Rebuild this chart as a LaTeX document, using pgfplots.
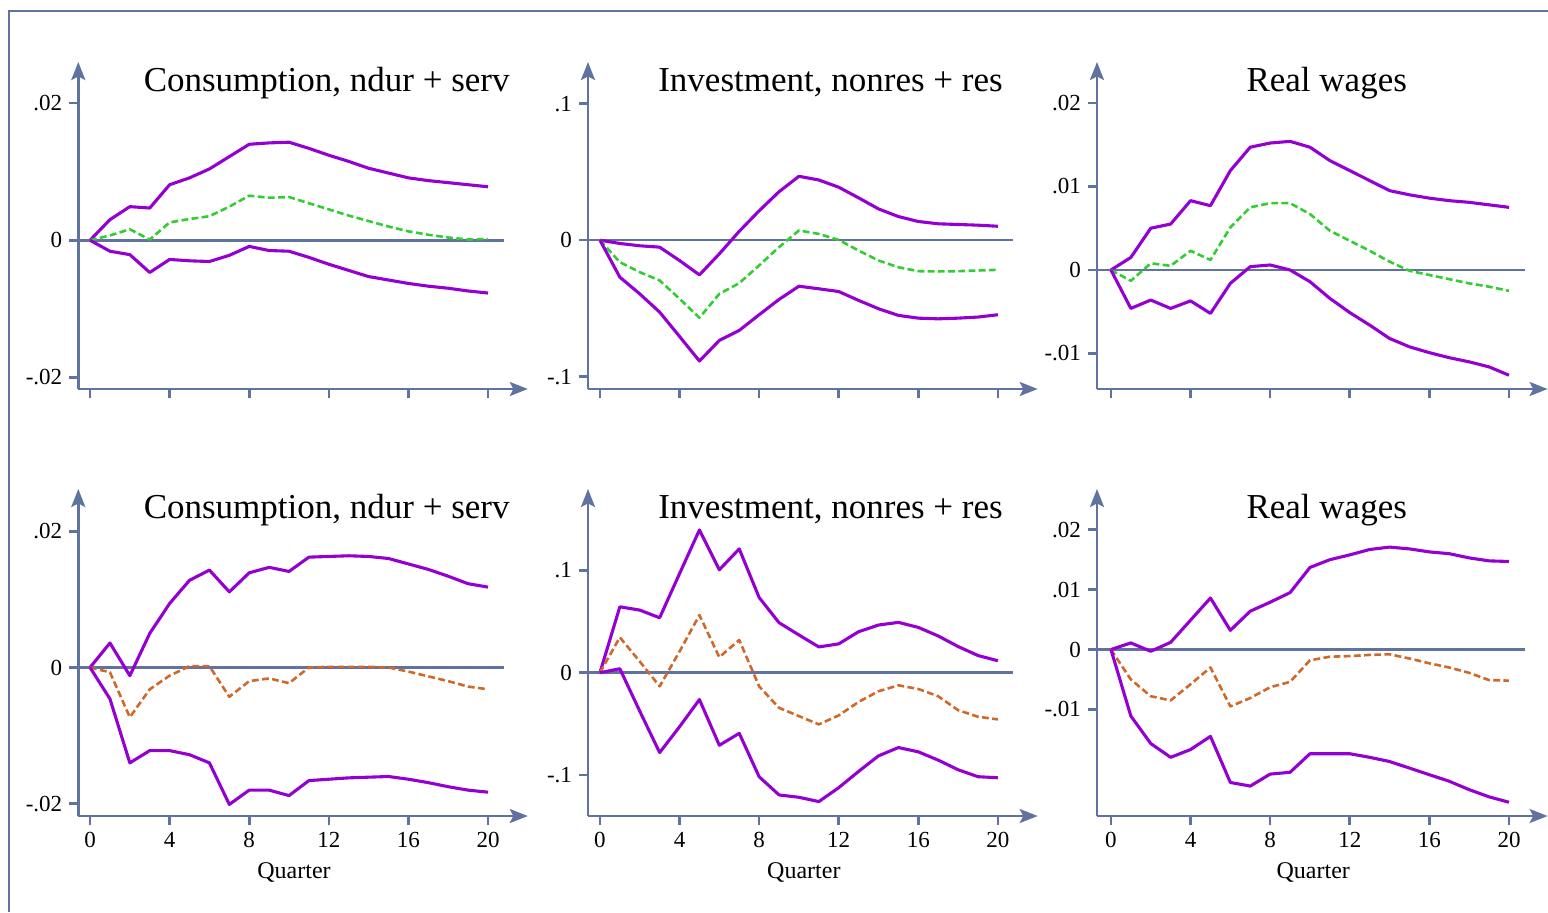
\documentclass[border=0pt]{standalone}
\usepackage{fontspec}
\setmainfont{Liberation Serif}
\usepackage{pgfplots}
\pgfplotsset{compat=1.18}
\usepackage{pgfplotstable}
\usetikzlibrary{arrows.meta}
\definecolor{axc}{RGB}{96,114,160}
\definecolor{pur}{RGB}{148,0,211}
\definecolor{grn}{RGB}{50,205,50}
\definecolor{org}{RGB}{208,104,42}

% x up mid lo
\pgfplotstableread{
x up mid lo
0 0 0 0
1 0.0030 0.0007 -0.0016
2 0.0049 0.0016 -0.0021
3 0.0047 0.0001 -0.0047
4 0.0081 0.0026 -0.0028
5 0.0091 0.0031 -0.0030
6 0.0104 0.0035 -0.0031
7 0.0122 0.0049 -0.0022
8 0.0140 0.0065 -0.0009
9 0.0142 0.0062 -0.0015
10 0.0143 0.0063 -0.0016
11 0.0134 0.0054 -0.0025
12 0.0124 0.0045 -0.0035
13 0.0115 0.0036 -0.0044
14 0.0105 0.0028 -0.0053
15 0.0098 0.0020 -0.0058
16 0.0091 0.0013 -0.0063
17 0.0087 0.0008 -0.0067
18 0.0084 0.0004 -0.0070
19 0.0081 0.0001 -0.0074
20 0.0078 0.0002 -0.0077
}\tA
\pgfplotstableread{
x up mid lo
0 0 0 0
1 -0.0024 -0.0161 -0.0271
2 -0.0041 -0.0234 -0.0393
3 -0.0051 -0.0295 -0.0527
4 -0.0149 -0.0429 -0.0705
5 -0.0254 -0.0568 -0.0885
6 -0.0100 -0.0393 -0.0734
7 0.0065 -0.0315 -0.0661
8 0.0215 -0.0185 -0.0546
9 0.0355 -0.0051 -0.0434
10 0.0468 0.0071 -0.0337
11 0.0441 0.0046 -0.0356
12 0.0388 0.0002 -0.0376
13 0.0310 -0.0076 -0.0441
14 0.0229 -0.0149 -0.0502
15 0.0173 -0.0198 -0.0551
16 0.0137 -0.0227 -0.0571
17 0.0120 -0.0229 -0.0576
18 0.0115 -0.0227 -0.0571
19 0.0110 -0.0222 -0.0563
20 0.0102 -0.0217 -0.0546
}\tB
\pgfplotstableread{
x up mid lo
0 0 0 0
1 0.0015 -0.0013 -0.0046
2 0.0050 0.0008 -0.0036
3 0.0055 0.0005 -0.0046
4 0.0083 0.0023 -0.0037
5 0.0077 0.0012 -0.0052
6 0.0119 0.0051 -0.0016
7 0.0147 0.0075 0.0004
8 0.0152 0.0080 0.0006
9 0.0154 0.0080 0.0000
10 0.0147 0.0067 -0.0014
11 0.0131 0.0047 -0.0034
12 0.0119 0.0035 -0.0051
13 0.0107 0.0023 -0.0066
14 0.0095 0.0010 -0.0082
15 0.0090 -0.0001 -0.0092
16 0.0086 -0.0006 -0.0099
17 0.0083 -0.0011 -0.0105
18 0.0081 -0.0016 -0.0110
19 0.0078 -0.0020 -0.0116
20 0.0075 -0.0025 -0.0126
}\tC
\pgfplotstableread{
x up mid lo
0 0 0 0
1 0.0036 -0.0007 -0.0046
2 -0.0012 -0.0073 -0.0140
3 0.0050 -0.0032 -0.0122
4 0.0094 -0.0012 -0.0122
5 0.0128 0.0002 -0.0128
6 0.0143 0.0002 -0.0140
7 0.0111 -0.0043 -0.0201
8 0.0139 -0.0020 -0.0180
9 0.0147 -0.0016 -0.0180
10 0.0141 -0.0023 -0.0188
11 0.0162 0.0000 -0.0166
12 0.0163 0.0001 -0.0164
13 0.0164 0.0001 -0.0162
14 0.0163 0.0001 -0.0161
15 0.0160 0.0000 -0.0160
16 0.0152 -0.0006 -0.0164
17 0.0144 -0.0013 -0.0169
18 0.0134 -0.0020 -0.0175
19 0.0123 -0.0028 -0.0180
20 0.0118 -0.0032 -0.0183
}\tD
\pgfplotstableread{
x up mid lo
0 0 0 0
1 0.0644 0.0346 0.0039
2 0.0612 0.0110 -0.0375
3 0.0537 -0.0133 -0.0780
4 0.0968 0.0207 -0.0528
5 0.1395 0.0563 -0.0262
6 0.1006 0.0152 -0.0709
7 0.1210 0.0320 -0.0592
8 0.0735 -0.0133 -0.1016
9 0.0489 -0.0343 -0.1194
10 0.0369 -0.0424 -0.1217
11 0.0252 -0.0505 -0.1259
12 0.0282 -0.0417 -0.1123
13 0.0401 -0.0285 -0.0964
14 0.0466 -0.0181 -0.0812
15 0.0492 -0.0123 -0.0731
16 0.0443 -0.0159 -0.0773
17 0.0359 -0.0230 -0.0854
18 0.0256 -0.0366 -0.0948
19 0.0168 -0.0430 -0.1016
20 0.0117 -0.0456 -0.1026
}\tE
\pgfplotstableread{
x up mid lo
0 0 0 0
1 0.0011 -0.0050 -0.0111
2 -0.0003 -0.0078 -0.0157
3 0.0012 -0.0085 -0.0180
4 0.0049 -0.0058 -0.0167
5 0.0086 -0.0030 -0.0145
6 0.0032 -0.0095 -0.0222
7 0.0064 -0.0081 -0.0228
8 0.0079 -0.0063 -0.0208
9 0.0095 -0.0054 -0.0205
10 0.0137 -0.0018 -0.0174
11 0.0150 -0.0012 -0.0174
12 0.0158 -0.0011 -0.0174
13 0.0167 -0.0009 -0.0180
14 0.0171 -0.0008 -0.0187
15 0.0168 -0.0015 -0.0198
16 0.0163 -0.0023 -0.0209
17 0.0160 -0.0030 -0.0220
18 0.0153 -0.0039 -0.0234
19 0.0148 -0.0051 -0.0246
20 0.0147 -0.0052 -0.0255
}\tF

\pgfplotsset{
  irf/.style={
    scale only axis,
    height=163.5pt,
    anchor=south west,
    axis lines=left,
    scaled y ticks=false,
    scaled x ticks=false,
    axis line style={draw=axc, line width=1.3pt, -{Stealth[length=9pt,width=7pt,inset=1.8pt]}},
    every tick/.style={draw=axc, line width=1.3pt},
    tick align=outside,
    major tick length=4.5pt,
    xtick={0,4,8,12,16,20},
    tick label style={font=\fontsize{11.5}{13}\selectfont},
    clip=false,
  },
  toprow/.style={xticklabels={}},
  botrow/.style={
    xticklabels={0,4,8,12,16,20},
    xlabel={Quarter},
    xlabel style={at={(axis description cs:0.48,0)}, anchor=base, yshift=-31pt, font=\fontsize{12}{14}\selectfont},
  },
  band/.style={draw=pur, line width=1.55pt, line join=round, no markers},
  midg/.style={draw=grn, line width=1.3pt, dash pattern=on 3.4pt off 1.7pt, line join=round, no markers},
  mido/.style={draw=org, line width=1.3pt, dash pattern=on 3.4pt off 1.7pt, line join=round, no markers},
  zl/.style={draw=axc, line width=1.3pt, no markers, forget plot},
}

\begin{document}
\begin{tikzpicture}
\useasboundingbox (0,0) rectangle (774pt,-456pt);
\draw[axc, line width=1.1pt] (774pt,-5.5pt) -- (4.5pt,-5.5pt) -- (4.5pt,-456pt);

% ---------- top row ----------
\begin{axis}[irf, toprow, at={(39.15pt,-194.5pt)}, width=224.75pt,
  xmin=-0.59, xmax=22.0, ymin=-0.0217, ymax=0.0260,
  ytick={-0.02,0,0.02}, yticklabels={-.02,0,.02}]
  \addplot[zl] coordinates {(-0.59,0) (20.78,0)};
  \addplot[band] table[x=x,y=up]{\tA};
  \addplot[midg] table[x=x,y=mid]{\tA};
  \addplot[band] table[x=x,y=lo]{\tA};
\end{axis}

\begin{axis}[irf, toprow, at={(294pt,-194.5pt)}, width=224.85pt,
  xmin=-0.6, xmax=22.0, ymin=-0.109, ymax=0.1305,
  ytick={-0.1,0,0.1}, yticklabels={-.1,0,.1}]
  \addplot[zl] coordinates {(-0.6,0) (20.78,0)};
  \addplot[band] table[x=x,y=up]{\tB};
  \addplot[midg] table[x=x,y=mid]{\tB};
  \addplot[band] table[x=x,y=lo]{\tB};
\end{axis}

\begin{axis}[irf, toprow, at={(548.5pt,-194.5pt)}, width=225.3pt,
  xmin=-0.7, xmax=21.94, ymin=-0.01425, ymax=0.0249,
  ytick={-0.01,0,0.01,0.02}, yticklabels={-.01,0,.01,.02}]
  \addplot[zl] coordinates {(-0.7,0) (20.78,0)};
  \addplot[band] table[x=x,y=up]{\tC};
  \addplot[midg] table[x=x,y=mid]{\tC};
  \addplot[band] table[x=x,y=lo]{\tC};
\end{axis}

% ---------- bottom row ----------
\begin{axis}[irf, botrow, at={(39.15pt,-408pt)}, width=224.75pt,
  xmin=-0.59, xmax=22.0, ymin=-0.0218, ymax=0.0262,
  ytick={-0.02,0,0.02}, yticklabels={-.02,0,.02}]
  \addplot[zl] coordinates {(-0.59,0) (20.78,0)};
  \addplot[band] table[x=x,y=up]{\tD};
  \addplot[mido] table[x=x,y=mid]{\tD};
  \addplot[band] table[x=x,y=lo]{\tD};
\end{axis}

\begin{axis}[irf, botrow, at={(294pt,-408pt)}, width=224.85pt,
  xmin=-0.6, xmax=22.0, ymin=-0.14, ymax=0.1795,
  ytick={-0.1,0,0.1}, yticklabels={-.1,0,.1}]
  \addplot[zl] coordinates {(-0.6,0) (20.78,0)};
  \addplot[band] table[x=x,y=up]{\tE};
  \addplot[mido] table[x=x,y=mid]{\tE};
  \addplot[band] table[x=x,y=lo]{\tE};
\end{axis}

\begin{axis}[irf, botrow, at={(548.5pt,-408pt)}, width=225.3pt,
  xmin=-0.7, xmax=21.94, ymin=-0.0278, ymax=0.0268,
  ytick={-0.01,0,0.01,0.02}, yticklabels={-.01,0,.01,.02}]
  \addplot[zl] coordinates {(-0.7,0) (20.78,0)};
  \addplot[band] table[x=x,y=up]{\tF};
  \addplot[mido] table[x=x,y=mid]{\tF};
  \addplot[band] table[x=x,y=lo]{\tF};
\end{axis}

% ---------- titles ----------
\begin{scope}[every node/.style={anchor=base, font=\fontsize{17.5}{20}\selectfont, inner sep=0pt}]
\node at (163.35pt,-45.5pt) {Consumption, ndur + serv};
\node at (415.25pt,-45.5pt) {Investment, nonres + res};
\node at (663.35pt,-45.5pt) {Real wages};
\node at (163.35pt,-259pt) {Consumption, ndur + serv};
\node at (415.25pt,-259pt) {Investment, nonres + res};
\node at (663.35pt,-259pt) {Real wages};
\end{scope}
\end{tikzpicture}
\end{document}
